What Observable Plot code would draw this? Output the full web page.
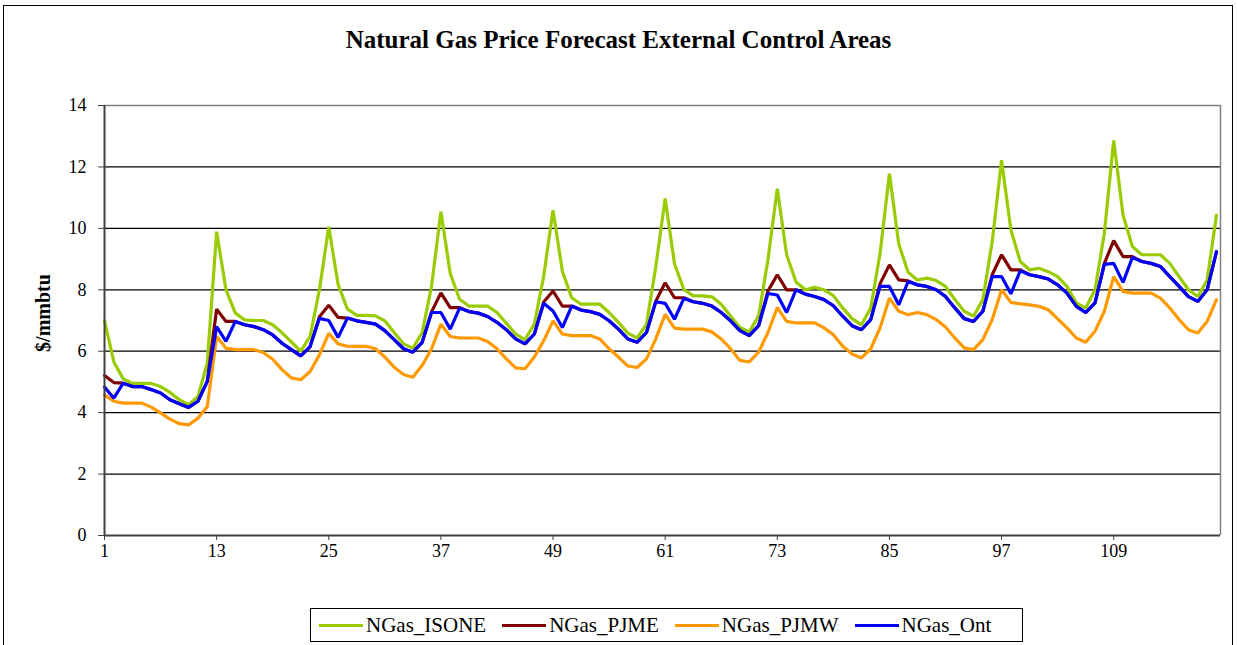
<!DOCTYPE html>
<html><head><meta charset="utf-8">
<script src="https://cdn.jsdelivr.net/npm/d3@7"></script>
<script src="https://cdn.jsdelivr.net/npm/@observablehq/plot@0.6"></script>
<style>
body{margin:0;background:#fff;font-family:"Liberation Serif","Times New Roman",serif;width:1237px;height:645px;overflow:hidden;position:relative;}
#frame{position:absolute;left:3px;top:5px;width:1230px;height:700px;border:1.5px solid #000;box-sizing:border-box;}
#title{position:absolute;left:0;top:25px;width:1237px;text-align:center;font-weight:bold;font-size:25px;line-height:30px;font-family:"Liberation Serif",serif;}
#ylab{position:absolute;left:43px;top:313px;transform:translate(-50%,-50%) rotate(-90deg);font-weight:bold;font-size:20px;white-space:nowrap;font-family:"Liberation Serif",serif;}
#chart{position:absolute;left:0;top:80px;}
#legend{position:absolute;left:310px;top:608px;width:713px;height:34px;border:1px solid #000;box-sizing:border-box;display:flex;align-items:center;padding-left:8px;font-size:21px;font-family:"Liberation Serif",serif;}
.item{display:flex;align-items:center;margin-right:16px;}
.sw{width:44px;height:3px;margin-right:3px;}
</style></head>
<body>
<div id="frame"></div>
<div id="title">Natural Gas Price Forecast External Control Areas</div>
<div id="ylab">$/mmbtu</div>
<div id="chart"></div>
<div id="legend"></div>
<script>
const months = d3.range(1, 121);
const seriesNames = ["NGas_ISONE", "NGas_PJME", "NGas_PJMW", "NGas_Ont"];
const seriesColors = ["#99cc00", "#800000", "#ff9900", "#0000ff"];
const yTicks = [0, 2, 4, 6, 8, 10, 12, 14];
const xTicks = [1, 13, 25, 37, 49, 61, 73, 85, 97, 109];

const isone = [7.0,5.65,5.1,4.95,4.95,4.95,4.85,4.66,4.42,4.26,4.53,5.61,
9.89,8.0,7.24,7.02,7.0,7.0,6.86,6.6,6.3,6.0,6.48,8.0,
10.05,8.17,7.37,7.17,7.17,7.15,6.99,6.61,6.24,6.1,6.61,8.12,
10.54,8.53,7.69,7.47,7.47,7.47,7.26,6.91,6.56,6.38,6.88,8.44,
10.59,8.6,7.74,7.53,7.53,7.53,7.26,6.94,6.59,6.43,6.88,8.76,
10.97,8.85,8.01,7.8,7.8,7.77,7.53,7.15,6.77,6.63,7.15,8.98,
11.29,9.14,8.25,8.0,8.08,8.0,7.81,7.41,7.06,6.86,7.41,9.19,
11.78,9.49,8.57,8.32,8.38,8.3,8.11,7.68,7.3,7.14,7.68,9.57,
12.22,9.95,8.92,8.65,8.7,8.59,8.43,8.11,7.57,7.41,8.0,9.84,
12.86,10.43,9.41,9.14,9.14,9.14,8.86,8.43,8.0,7.78,8.32,10.43];

const pjme = [5.21,4.98,4.96,4.85,4.85,4.75,4.64,4.42,4.29,4.17,4.37,5.02,
7.37,6.97,6.97,6.86,6.8,6.7,6.53,6.26,6.05,5.85,6.15,7.12,
7.5,7.1,7.08,6.99,6.94,6.88,6.67,6.38,6.08,5.97,6.29,7.28,
7.9,7.42,7.42,7.29,7.24,7.13,6.94,6.7,6.4,6.24,6.56,7.6,
7.96,7.47,7.47,7.34,7.29,7.2,6.99,6.72,6.4,6.29,6.61,7.63,
8.23,7.74,7.74,7.61,7.56,7.47,7.26,6.99,6.67,6.51,6.83,7.96,
8.49,8.0,8.0,7.86,7.78,7.68,7.48,7.14,6.83,6.7,7.03,8.2,
8.81,8.32,8.29,8.16,8.11,8.0,7.78,7.41,7.06,6.97,7.3,8.49,
9.14,8.65,8.65,8.49,8.43,8.35,8.16,7.89,7.46,7.26,7.57,8.86,
9.6,9.08,9.08,8.92,8.86,8.76,8.43,8.11,7.78,7.62,8.0,9.24];

const pjmw = [4.58,4.37,4.31,4.31,4.31,4.18,3.99,3.79,3.64,3.6,3.82,4.2,
6.48,6.1,6.05,6.05,6.05,5.96,5.74,5.4,5.13,5.07,5.34,5.88,
6.58,6.24,6.16,6.16,6.16,6.08,5.81,5.48,5.24,5.15,5.54,6.08,
6.88,6.48,6.43,6.43,6.43,6.32,6.08,5.75,5.46,5.43,5.81,6.34,
6.99,6.56,6.51,6.51,6.51,6.4,6.08,5.81,5.52,5.47,5.75,6.4,
7.2,6.75,6.72,6.72,6.72,6.63,6.4,6.08,5.7,5.65,5.97,6.61,
7.42,6.97,6.92,6.92,6.92,6.76,6.54,6.16,5.91,5.78,6.08,6.76,
7.73,7.3,7.19,7.26,7.19,7.03,6.79,6.43,6.11,6.05,6.38,7.03,
8.0,7.59,7.54,7.51,7.46,7.35,7.05,6.76,6.43,6.29,6.65,7.3,
8.43,7.95,7.89,7.89,7.89,7.73,7.41,7.03,6.7,6.59,6.97,7.68];

const ont = [4.83,4.47,4.96,4.85,4.85,4.75,4.64,4.42,4.29,4.17,4.37,5.02,
6.8,6.32,6.97,6.86,6.8,6.7,6.53,6.26,6.05,5.85,6.15,7.07,
7.0,6.45,7.08,6.99,6.94,6.88,6.67,6.38,6.08,5.97,6.29,7.26,
7.26,6.72,7.4,7.29,7.24,7.13,6.94,6.7,6.4,6.24,6.56,7.56,
7.31,6.77,7.47,7.34,7.29,7.2,6.99,6.72,6.4,6.29,6.61,7.61,
7.56,7.04,7.72,7.61,7.56,7.47,7.26,6.99,6.67,6.51,6.83,7.88,
7.83,7.26,8.0,7.86,7.78,7.68,7.48,7.14,6.83,6.7,7.03,8.11,
8.11,7.51,8.27,8.16,8.11,8.0,7.78,7.41,7.06,6.97,7.3,8.43,
8.43,7.87,8.62,8.49,8.43,8.35,8.16,7.89,7.46,7.26,7.57,8.83,
8.86,8.24,9.05,8.92,8.86,8.76,8.43,8.11,7.78,7.62,8.0,9.24];

const seriesValues = [isone, pjme, pjmw, ont];
const data = seriesNames.flatMap((name, s) => seriesValues[s].map((v, i) => ({month: months[i], value: v, series: name})));

const xMax = 120.43;
const chart = Plot.plot({
  width: 1237, height: 495,
  marginTop: 25, marginLeft: 104, marginRight: 17, marginBottom: 40,
  style: {fontFamily: "Liberation Serif, Times New Roman, serif", fontSize: "18px", color: "#000", background: "transparent"},
  x: {domain: [1, xMax], label: null},
  y: {domain: [0, 14], label: null},
  color: {domain: seriesNames, range: seriesColors},
  marks: [
    Plot.ruleY(yTicks.filter(d => d > 0 && d < 14), {stroke: "#000", strokeWidth: 1.2}),
    Plot.ruleY([14], {stroke: "#808080", strokeWidth: 1.5}),
    Plot.ruleX([xMax], {stroke: "#808080", strokeWidth: 1.5}),
    Plot.lineY(data, {x: "month", y: "value", z: "series", stroke: "series", strokeWidth: 3.2, strokeLinejoin: "miter"}),
    Plot.ruleY([0], {stroke: "#404040", strokeWidth: 2}),
    Plot.ruleX([1], {stroke: "#404040", strokeWidth: 2}),
    Plot.axisY({ticks: yTicks, tickSize: 6, tickPadding: 12, fontSize: 18, stroke: "#404040", label: null}),
    Plot.axisX({ticks: xTicks, tickSize: 5, tickPadding: 4, fontSize: 18, stroke: "#404040", label: null, tickFormat: d => String(d)})
  ]
});
document.getElementById("chart").appendChild(chart);

const legend = document.getElementById("legend");
seriesNames.forEach((name, i) => {
  const item = document.createElement("div");
  item.className = "item";
  const sw = document.createElement("div");
  sw.className = "sw";
  sw.style.background = seriesColors[i];
  const label = document.createElement("span");
  label.textContent = name;
  item.appendChild(sw);
  item.appendChild(label);
  legend.appendChild(item);
});
</script>
</body></html>
